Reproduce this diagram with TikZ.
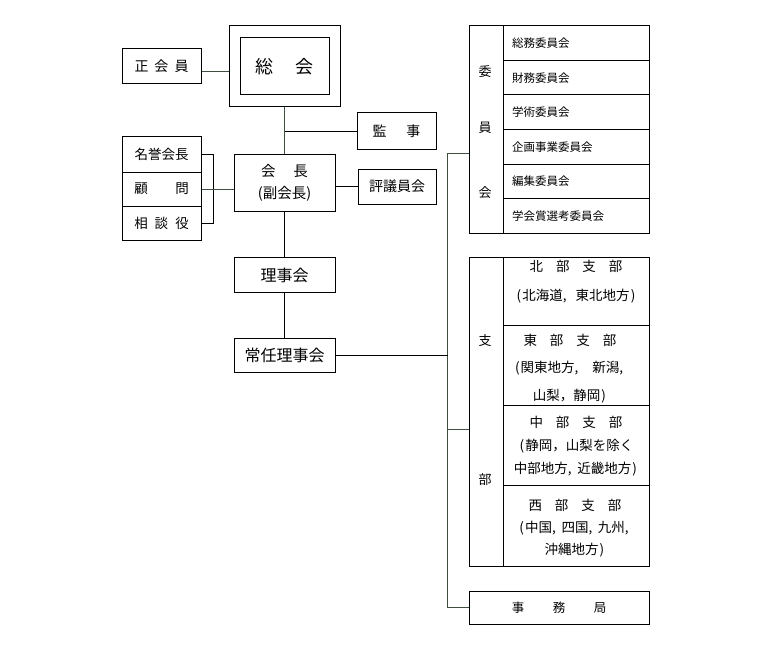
\documentclass[tikz,border=0pt]{standalone}
\usepackage{fontspec}
\setmainfont{Noto Sans CJK JP}
\usetikzlibrary{calc}
\definecolor{connc}{RGB}{64,80,64}
\newcommand{\lpar}{\makebox[0.5em][c]{(}}
\newcommand{\rpar}{\makebox[0.5em][c]{)}}
\newcommand{\hcm}{\makebox[0.5em][l]{,}}
\begin{document}
\begin{tikzpicture}[x=1pt,y=-1pt,
  box/.style={draw,line width=1pt,inner sep=0pt,font=\fontsize{14}{16}\selectfont},
  irow/.style={box,font=\fontsize{11.5}{14}\selectfont,minimum height=34.5pt,text width=128pt,inner xsep=9pt,align=left},
  srow/.style={box,minimum width=146pt},
  conn/.style={draw=connc,line width=1pt},
  blk/.style={draw=black,line width=1pt},
  lbl/.style={inner sep=0pt,font=\fontsize{13}{15}\selectfont},
  stxt/.style={inner sep=0pt,align=center},
]
\useasboundingbox (0,0) rectangle (770,650);
% left / center column
\node[box,minimum width=79pt,minimum height=35pt] (zheng) at (161.5,66.5) {正\hspace{6pt}会\hspace{6pt}員};
\node[box,minimum width=111pt,minimum height=81pt] (soukai) at (284.5,66.5) {};
\node[box,minimum width=89pt,minimum height=57pt,font=\fontsize{18}{20}\selectfont] (soukaiin) at (284.5,66.5) {総\hspace{22pt}会};
\node[box,minimum width=101pt,minimum height=57pt,align=center,font=\fontsize{14.5}{21.6}\selectfont] (kaicho) at (284.5,182.7) {会\hspace{18pt}長\\(副会長)};
\node[box,minimum width=79pt,minimum height=36pt] (kanji) at (396.5,131) {監\hspace{20pt}事};
\node[box,minimum width=78pt,minimum height=35pt] (hyogi) at (397,186.7) {評議員会};
\node[box,minimum width=79pt,minimum height=36pt,font=\fontsize{13.5}{16}\selectfont] (meiyo) at (161.5,154) {名誉会長};
\node[box,minimum width=79pt,minimum height=34pt,font=\fontsize{13.5}{16}\selectfont] (komon) at (161.5,189) {顧\hspace{27.5pt}問};
\node[box,minimum width=79pt,minimum height=34pt,font=\fontsize{13.5}{16}\selectfont] (soudan) at (161.5,223) {相\hspace{7pt}談\hspace{7pt}役};
\node[box,minimum width=101pt,minimum height=35pt,font=\fontsize{16}{18}\selectfont] (riji) at (284.5,275) {理事会};
\node[box,minimum width=101pt,minimum height=34pt,font=\fontsize{16}{18}\selectfont] (jonin) at (284.5,355.5) {常任理事会};
% committees
\node[box,minimum width=34pt,minimum height=207pt] (iinL) at (486,129.5) {};
\node[irow] (r1) at (576,43.25) {総務委員会};
\node[irow] (r2) at (576,77.75) {財務委員会};
\node[irow] (r3) at (576,112.25) {学術委員会};
\node[irow] (r4) at (576,146.75) {企画事業委員会};
\node[irow] (r5) at (576,181.25) {編集委員会};
\node[irow] (r6) at (576,215.75) {学会賞選考委員会};
\node[lbl] (iin1) at (485,71.7) {委};
\node[lbl] (iin2) at (485,128.3) {員};
\node[lbl] (iin3) at (485,193) {会};
% branches
\node[box,minimum width=34pt,minimum height=309pt] (shibuL) at (486,411.5) {};
\node[srow,minimum height=68pt] (hoku) at (576,291) {};
\node[srow,minimum height=80pt] (tou) at (576,365) {};
\node[srow,minimum height=80pt] (chu) at (576,445) {};
\node[srow,minimum height=81pt] (sei) at (576,525.5) {};
\node[lbl] (sb1) at (485,340.7) {支};
\node[lbl] (sb2) at (485,480) {部};
\node[stxt,font=\fontsize{13.5}{28.7}\selectfont] (hokut) at (576,281.3) {北\hspace{13pt}部\hspace{13pt}支\hspace{13pt}部\hspace{6pt}\\\lpar 北海道\hcm\hspace{0.45em}東北地方\rpar};
\node[stxt,font=\fontsize{13.5}{27.5}\selectfont] (tout) at (570,368.2) {東\hspace{13pt}部\hspace{13pt}支\hspace{13pt}部\\\lpar 関東地方\hcm\hspace{0.8em}新潟\hcm\\山梨，静岡\rpar};
\node[stxt,font=\fontsize{13.5}{22.9}\selectfont] (chut) at (576,446.3) {中\hspace{13pt}部\hspace{13pt}支\hspace{13pt}部\\\lpar 静岡，山梨を除く\\中部地方\hcm\hspace{0.2em}近畿地方\rpar};
\node[stxt,font=\fontsize{13.5}{21.7}\selectfont] (seit) at (575,528.3) {西\hspace{13pt}部\hspace{13pt}支\hspace{13pt}部\\\lpar 中国\hcm\hspace{0.2em}四国\hcm\hspace{0.2em}九州\hcm\\沖縄地方\rpar};
\node[box,minimum width=180pt,minimum height=33pt,font=\fontsize{12.5}{14}\selectfont] (jimu) at (559,607.5) {事\hspace{28.5pt}務\hspace{28.5pt}局};
% connectors
\draw[conn] ([yshift=-5.5pt]zheng.east) -- ([yshift=-5.5pt]soukai.west);
\draw[conn] (soukai.south) -- (kaicho.north);
\draw[blk] (kaicho.north |- kanji.west) -- (kanji.west);
\draw[blk] (kaicho.east |- hyogi.west) -- (hyogi.west);
\draw[blk] (meiyo.east) -- ++(12,0) |- (soudan.east);
\draw[conn] (komon.east) -- (kaicho.west |- komon.east);
\draw[blk] (kaicho.south) -- (riji.north);
\draw[blk] (riji.south) -- (jonin.north);
\coordinate (bus) at (447.5,0);
\draw[conn] ([yshift=-23.5pt]iinL.west) -| (bus |- jimu.west) -- (jimu.west);
\draw[conn] ([yshift=-18pt]shibuL.west) -- ++(-21.5,0);
\draw[blk] (jonin.east) -- (bus |- jonin.east);
\end{tikzpicture}
\end{document}
